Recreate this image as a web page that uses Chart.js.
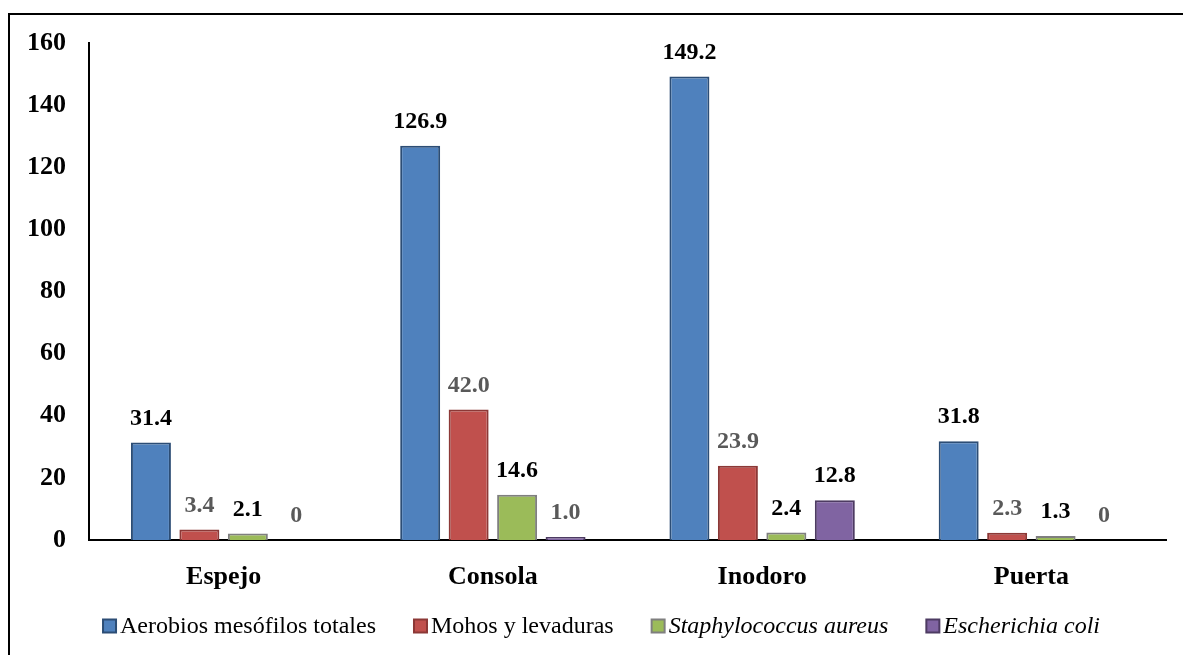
<!DOCTYPE html>
<html>
<head>
<meta charset="utf-8">
<script src="https://cdn.jsdelivr.net/npm/chart.js@4"></script>
<style>
  html, body { margin: 0; padding: 0; background: #fff; overflow: hidden; }
  #wrap { position: relative; width: 1183px; height: 655px; }
  #frame { position: absolute; left: 8px; top: 13px; width: 1200px; height: 700px; border: 2px solid #000; box-sizing: border-box; }
  canvas { position: absolute; left: 0; top: 0; }
  .warm { position: absolute; left: -9999px; top: 0; font-family: "Liberation Serif"; }
</style>
</head>
<body>
<div id="wrap">
  <div id="frame"></div>
  <span class="warm" style="font-weight:bold">Aa</span>
  <span class="warm" style="font-style:italic">Aa</span>
  <span class="warm">Aa</span>
  <canvas id="c" width="1183" height="655"></canvas>
</div>
<script>
// Sampling sites and mean counts per group
const categories = ['Espejo', 'Consola', 'Inodoro', 'Puerta'];
const seriesNames = ['Aerobios mesófilos totales', 'Mohos y levaduras', 'Staphylococcus aureus', 'Escherichia coli'];
const aerobios = [31.4, 126.9, 149.2, 31.8];
const mohos = [3.4, 42.0, 23.9, 2.3];
const staphylococcus = [2.1, 14.6, 2.4, 1.3];
const escherichia = [0, 1.0, 12.8, 0];
const yTicks = [0, 20, 40, 60, 80, 100, 120, 140, 160];

// Value label text per series (zero shown without decimals)
const labelText = [
  aerobios.map(v => v.toFixed(1)),
  mohos.map(v => v.toFixed(1)),
  staphylococcus.map(v => v.toFixed(1)),
  escherichia.map(v => v === 0 ? '0' : v.toFixed(1))
];

const BLACK = '#000000', GREY = '#595959';
const labelColors = [
  [BLACK, BLACK, BLACK, BLACK],
  [GREY, GREY, GREY, GREY],
  [BLACK, BLACK, BLACK, BLACK],
  [GREY, GREY, BLACK, GREY]
];

const fills = ['#4f81bd', '#c0504d', '#9bbb59', '#8064a2'];
const edges = ['#2c4d75', '#8c3836', '#7f7f7f', '#4d3b62'];
const italicLegend = [false, false, true, true];
const serif = "'Liberation Serif', 'Times New Roman', serif";

const valueLabels = {
  id: 'valueLabels',
  afterDatasetsDraw(chart) {
    const ctx = chart.ctx;
    ctx.save();
    ctx.font = 'bold 24px ' + serif;
    ctx.textAlign = 'center';
    ctx.textBaseline = 'bottom';
    chart.data.datasets.forEach((ds, di) => {
      const meta = chart.getDatasetMeta(di);
      meta.data.forEach((bar, i) => {
        ctx.fillStyle = labelColors[di][i];
        ctx.fillText(labelText[di][i], bar.x, bar.y - 12);
      });
    });
    ctx.restore();
  }
};

const bottomLegend = {
  id: 'bottomLegend',
  afterDraw(chart) {
    const ctx = chart.ctx;
    ctx.save();
    ctx.textBaseline = 'middle';
    ctx.textAlign = 'left';
    const box = 13, gapBox = 4, gapItem = 38, y = 626;
    const fonts = italicLegend.map(it => (it ? 'italic ' : '') + '24px ' + serif);
    const widths = seriesNames.map((n, i) => { ctx.font = fonts[i]; return ctx.measureText(n).width; });
    const total = widths.reduce((a, w) => a + box + gapBox + w, 0) + gapItem * (seriesNames.length - 1);
    let x = chart.width / 2 + 10 - total / 2;
    seriesNames.forEach((n, i) => {
      ctx.fillStyle = fills[i];
      ctx.fillRect(x, y - box / 2, box, box);
      ctx.strokeStyle = edges[i];
      ctx.lineWidth = 2;
      ctx.strokeRect(x, y - box / 2, box, box);
      ctx.font = fonts[i];
      ctx.fillStyle = '#000';
      ctx.fillText(n, x + box + gapBox, y + 1);
      x += box + gapBox + widths[i] + gapItem;
    });
    ctx.restore();
  }
};

const seriesData = [aerobios, mohos, staphylococcus, escherichia];

function build() {
  new Chart(document.getElementById('c'), {
    type: 'bar',
    data: {
      labels: categories,
      datasets: seriesData.map((d, i) => ({
        label: seriesNames[i],
        data: d,
        backgroundColor: fills[i],
        borderColor: edges[i],
        borderWidth: 2,
        borderSkipped: 'bottom',
        categoryPercentage: 0.72,
        barPercentage: 0.825
      }))
    },
    options: {
      responsive: false,
      animation: false,
      layout: { padding: { top: 43, right: 17, bottom: 60, left: 0 } },
      plugins: { legend: { display: false }, tooltip: { enabled: false } },
      scales: {
        x: {
          grid: { display: false, drawTicks: false },
          border: { display: true, color: '#000', width: 2 },
          ticks: { color: '#000', font: { family: serif, size: 26, weight: 'bold' }, padding: 22 },
          afterFit(scale) { scale.height = 55; }
        },
        y: {
          min: 0, max: 160,
          afterBuildTicks(scale) { scale.ticks = yTicks.map(v => ({ value: v })); },
          grid: { display: false, drawTicks: false },
          border: { display: true, color: '#000', width: 2 },
          ticks: { color: '#000', font: { family: serif, size: 26, weight: 'bold' }, padding: 23 },
          afterFit(scale) { scale.width = 89; }
        }
      }
    },
    plugins: [valueLabels, bottomLegend]
  });
}

Promise.all([
  document.fonts.load("bold 26px 'Liberation Serif'"),
  document.fonts.load("24px 'Liberation Serif'"),
  document.fonts.load("italic 24px 'Liberation Serif'")
]).then(build, build);
</script>
</body>
</html>
